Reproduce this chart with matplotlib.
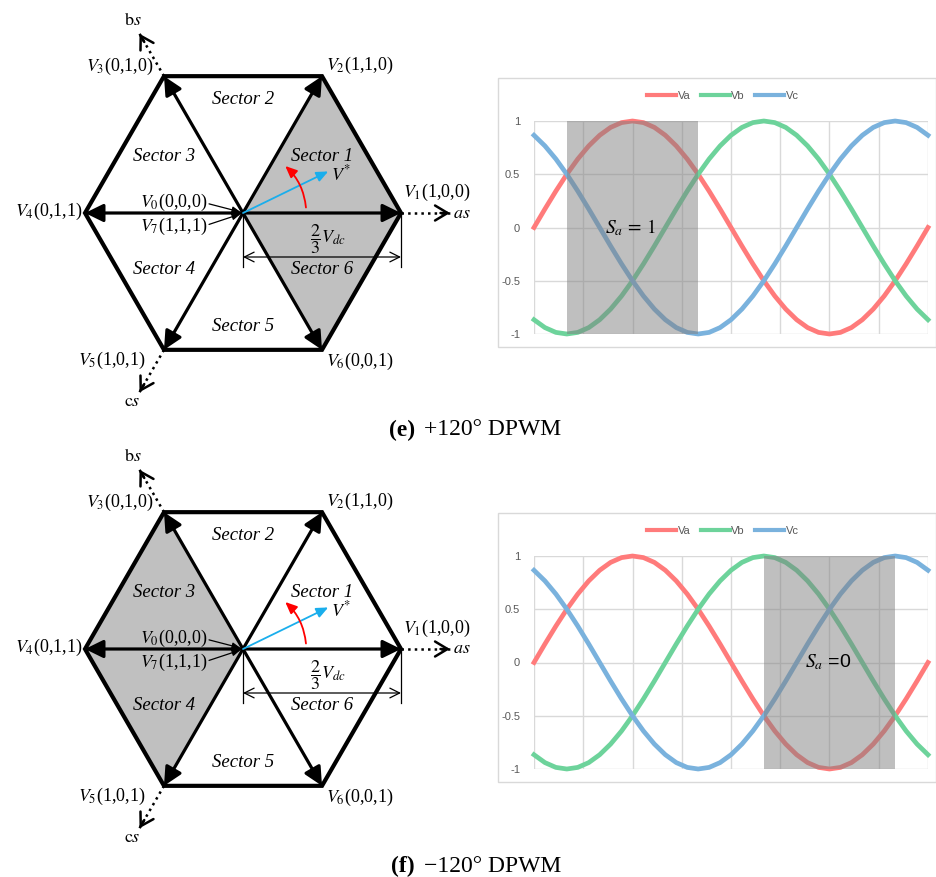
import numpy as np
import matplotlib.pyplot as plt
from matplotlib.patches import Polygon, FancyArrowPatch, Rectangle
from matplotlib.lines import Line2D

plt.rcParams['mathtext.fontset'] = 'stix'
plt.rcParams['font.family'] = 'Liberation Serif'

W, H = 937, 877

# space vector hexagon
vec_names = ['V_{1}', 'V_{2}', 'V_{3}', 'V_{4}', 'V_{5}', 'V_{6}']
vec_states = ['(1,0,0)', '(1,1,0)', '(0,1,0)', '(0,1,1)', '(1,0,1)', '(0,0,1)']
vec_angles = [0, 60, 120, 180, 240, 300]
zero_names = ['V_{0}', 'V_{7}']
zero_states = ['(0,0,0)', '(1,1,1)']
sector_names = ['Sector 1', 'Sector 2', 'Sector 3', 'Sector 4', 'Sector 5', 'Sector 6']
sector_angles = [30, 90, 150, 210, 270, 330]
phase_labels = [r'$as$', r'$\mathrm{b}s$', r'$\mathrm{c}s$']
phase_angles = [0, 120, 240]
ref_angle = 26  # V* direction, deg

# three-phase references, read every 10 deg
theta = list(range(0, 361, 10))
va = [0, 0.174, 0.342, 0.5, 0.643, 0.766, 0.866, 0.94, 0.985, 1, 0.985, 0.94, 0.866,
      0.766, 0.643, 0.5, 0.342, 0.174, 0, -0.174, -0.342, -0.5, -0.643, -0.766, -0.866,
      -0.94, -0.985, -1, -0.985, -0.94, -0.866, -0.766, -0.643, -0.5, -0.342, -0.174, 0]
vb = [-0.866, -0.94, -0.985, -1, -0.985, -0.94, -0.866, -0.766, -0.643, -0.5, -0.342, -0.174, 0,
      0.174, 0.342, 0.5, 0.643, 0.766, 0.866, 0.94, 0.985, 1, 0.985, 0.94, 0.866,
      0.766, 0.643, 0.5, 0.342, 0.174, 0, -0.174, -0.342, -0.5, -0.643, -0.766, -0.866]
vc = [0.866, 0.766, 0.643, 0.5, 0.342, 0.174, 0, -0.174, -0.342, -0.5, -0.643, -0.766, -0.866,
      -0.94, -0.985, -1, -0.985, -0.94, -0.866, -0.766, -0.643, -0.5, -0.342, -0.174, 0,
      0.174, 0.342, 0.5, 0.643, 0.766, 0.866, 0.94, 0.985, 1, 0.985, 0.94, 0.866]
series_names = ['Va', 'Vb', 'Vc']
series_colors = ['#FF7B7B', '#6DD39B', '#7AB2DD']

# the two panels
panel_tags = ['(e)', '(f)']
panel_titles = ['+120° DPWM', '\u2212120° DPWM']
shaded_sectors = [[1, 6], [3, 4]]
clamp_start = [30, 210]
clamp_end = [150, 330]
clamp_text = [r'$S_a\,=\,1$', r'$S_a$ =0']
clamp_text_x = [88, 269]

R = 158.0  # px per hexagon unit
CX, CY = 243, 213
# vertex label offsets (px) and alignment
lab_off = [(2, 21, 'left'), (4, 11, 'left'), (-11, 10, 'right'),
           (-3, 2, 'right'), (-19, -11, 'right'), (4, -12, 'left')]


def unit(a, r=1.0):
    return np.array([r * np.cos(np.radians(a)), r * np.sin(np.radians(a))])


def draw_hexagon(ax, shaded):
    verts = [unit(a) for a in vec_angles]
    for k in shaded:
        tri = [(0, 0), verts[k - 1], verts[k % 6]]
        ax.add_patch(Polygon(tri, closed=True, fc='#C0C0C0', ec='#C0C0C0', lw=0.6, zorder=0))
    ax.add_patch(Polygon(verts, closed=True, fill=False, ec='black', lw=3.0,
                         joinstyle='miter', zorder=3))
    for v in verts:
        ax.add_patch(FancyArrowPatch((0, 0), v, arrowstyle='-|>,head_length=0.55,head_width=0.27',
                                     mutation_scale=20, lw=2.3, color='black',
                                     shrinkA=0, shrinkB=0, zorder=4))
    # phase axes, dotted with open heads
    for lab, a in zip(phase_labels, phase_angles):
        p0, tip = unit(a), unit(a, 1.31)
        ax.plot([p0[0], tip[0]], [p0[1], tip[1]], color='black', lw=1.8, ls=':', zorder=2)
        ax.add_patch(FancyArrowPatch(unit(a, 1.25), tip, arrowstyle='->,head_length=0.5,head_width=0.3',
                                     mutation_scale=18, lw=1.8, color='black',
                                     shrinkA=0, shrinkB=0, zorder=2))
    ax.text(1.33, 0, phase_labels[0], ha='left', va='center', fontsize=13)
    ax.text(-0.70, 1.22, phase_labels[1], ha='center', va='center', fontsize=13)
    ax.text(-0.70, -1.196, phase_labels[2], ha='center', va='center', fontsize=13)
    # vertex labels
    for v, nm, st, (dx, dy, ha) in zip(verts, vec_names, vec_states, lab_off):
        ax.text(v[0] + dx / R, v[1] + dy / R, '$' + nm + '$' + st,
                ha=ha, va='center', fontsize=13)
    # zero vectors with leaders
    for nm, st, ly, ey in zip(zero_names, zero_states, [0.068, -0.085], [0.006, -0.006]):
        ax.text(-0.225, ly, '$' + nm + '$' + st, ha='right', va='center', fontsize=13)
        ax.add_patch(FancyArrowPatch((-0.215, ly * 0.85), (-0.015, ey),
                                     arrowstyle='-|>,head_length=0.5,head_width=0.2',
                                     mutation_scale=10, lw=0.9, color='black',
                                     shrinkA=0, shrinkB=0, zorder=5))
    # sector names
    for nm, a in zip(sector_names, sector_angles):
        p = unit(a, 0.577)
        ax.text(p[0], p[1] * 1.25, nm, ha='center', va='center', fontsize=13.5, style='italic')
    # reference vector and rotation
    ax.add_patch(FancyArrowPatch((0, 0), unit(ref_angle, 0.6),
                                 arrowstyle='-|>,head_length=0.5,head_width=0.22',
                                 mutation_scale=14, lw=1.3, color='#1AAEEC',
                                 shrinkA=0, shrinkB=0, zorder=6))
    ax.text(0.56, 0.245, r'$V^{*}$', ha='left', va='center', fontsize=13)
    ax.add_patch(FancyArrowPatch(unit(5, 0.4), unit(48, 0.4), connectionstyle='arc3,rad=0.19',
                                 arrowstyle='-|>,head_length=0.5,head_width=0.22',
                                 mutation_scale=14, lw=1.3, color='#FF0000',
                                 shrinkA=0, shrinkB=0, zorder=6))
    # 2/3 Vdc dimension
    dim_y = -44 / R
    ax.plot([0, 0], [0, -54 / R], color='black', lw=0.9, zorder=5)
    ax.plot([1, 1], [0, -54 / R], color='black', lw=0.9, zorder=5)
    ax.add_patch(FancyArrowPatch((0, dim_y), (1, dim_y), arrowstyle='<->,head_length=0.5,head_width=0.25',
                                 mutation_scale=14, lw=0.9, color='black',
                                 shrinkA=0, shrinkB=0, zorder=5))
    ax.text(0.54, -0.165, r'$\dfrac{2}{3}V_{dc}$', ha='center', va='center', fontsize=13)


def draw_wave(ax, i):
    for y, nm, c in zip([va, vb, vc], series_names, series_colors):
        ax.plot(theta, y, color=c, lw=3.4, clip_on=False, zorder=2, solid_joinstyle='round')
    ax.axvspan(clamp_start[i], clamp_end[i], color='#808080', alpha=0.5, lw=0, zorder=3)
    ax.text(clamp_text_x[i], 0, clamp_text[i], ha='center', va='center', fontsize=14,
            family='Liberation Sans', zorder=4)
    ax.set_xlim(0, 360)
    ax.set_ylim(-1, 1)
    ax.set_xticks(range(0, 361, 45))
    ax.set_yticks([-1, -0.5, 0, 0.5, 1])
    ax.set_yticklabels(['-1', '-0.5', '0', '0.5', '1'])
    ax.tick_params(length=0, pad=10, labelsize=8, labelcolor='#595959', labelbottom=False)
    for t in ax.get_yticklabels():
        t.set_family('Liberation Sans')
    ax.grid(color='#D9D9D9', lw=1, zorder=0)
    ax.set_axisbelow(True)
    for s in ax.spines.values():
        s.set_visible(False)


fig = plt.figure(figsize=(W / 100, H / 100), dpi=100)

for i in range(2):
    off = 436 * i
    # hexagon panel
    hx = fig.add_axes([0, 1 - (420 + off) / H, 470 / W, 420 / H])
    hx.set_xlim(-CX / R, (470 - CX) / R)
    hx.set_ylim((CY - 420) / R, CY / R)
    hx.axis('off')
    draw_hexagon(hx, shaded_sectors[i])

    # waveform chart
    coff = 435 * i
    fig.patches.append(Rectangle((498 / W, 1 - (347 + coff) / H), 438 / W, 269 / H,
                                 transform=fig.transFigure, fill=False, ec='#D9D9D9', lw=1))
    wx = fig.add_axes([534 / W, 1 - (334 + coff) / H, 394 / W, 213 / H])
    draw_wave(wx, i)
    handles = [Line2D([], [], color=c, lw=3) for c in series_colors]
    fig.legend(handles, series_names, loc='center', bbox_to_anchor=(723 / W, 1 - (96 + coff) / H),
               ncol=3, frameon=False, handlelength=2.6, handletextpad=0.15, columnspacing=0.9,
               prop={'family': 'Liberation Sans', 'size': 8}, labelcolor='#595959')

    # caption
    cy = 1 - (430 + off) / H
    fig.text(415 / W, cy, panel_tags[i], ha='right', va='center', fontsize=17, weight='bold')
    fig.text(424 / W, cy, panel_titles[i], ha='left', va='center', fontsize=17)

fig.savefig('out.png', dpi=100)
